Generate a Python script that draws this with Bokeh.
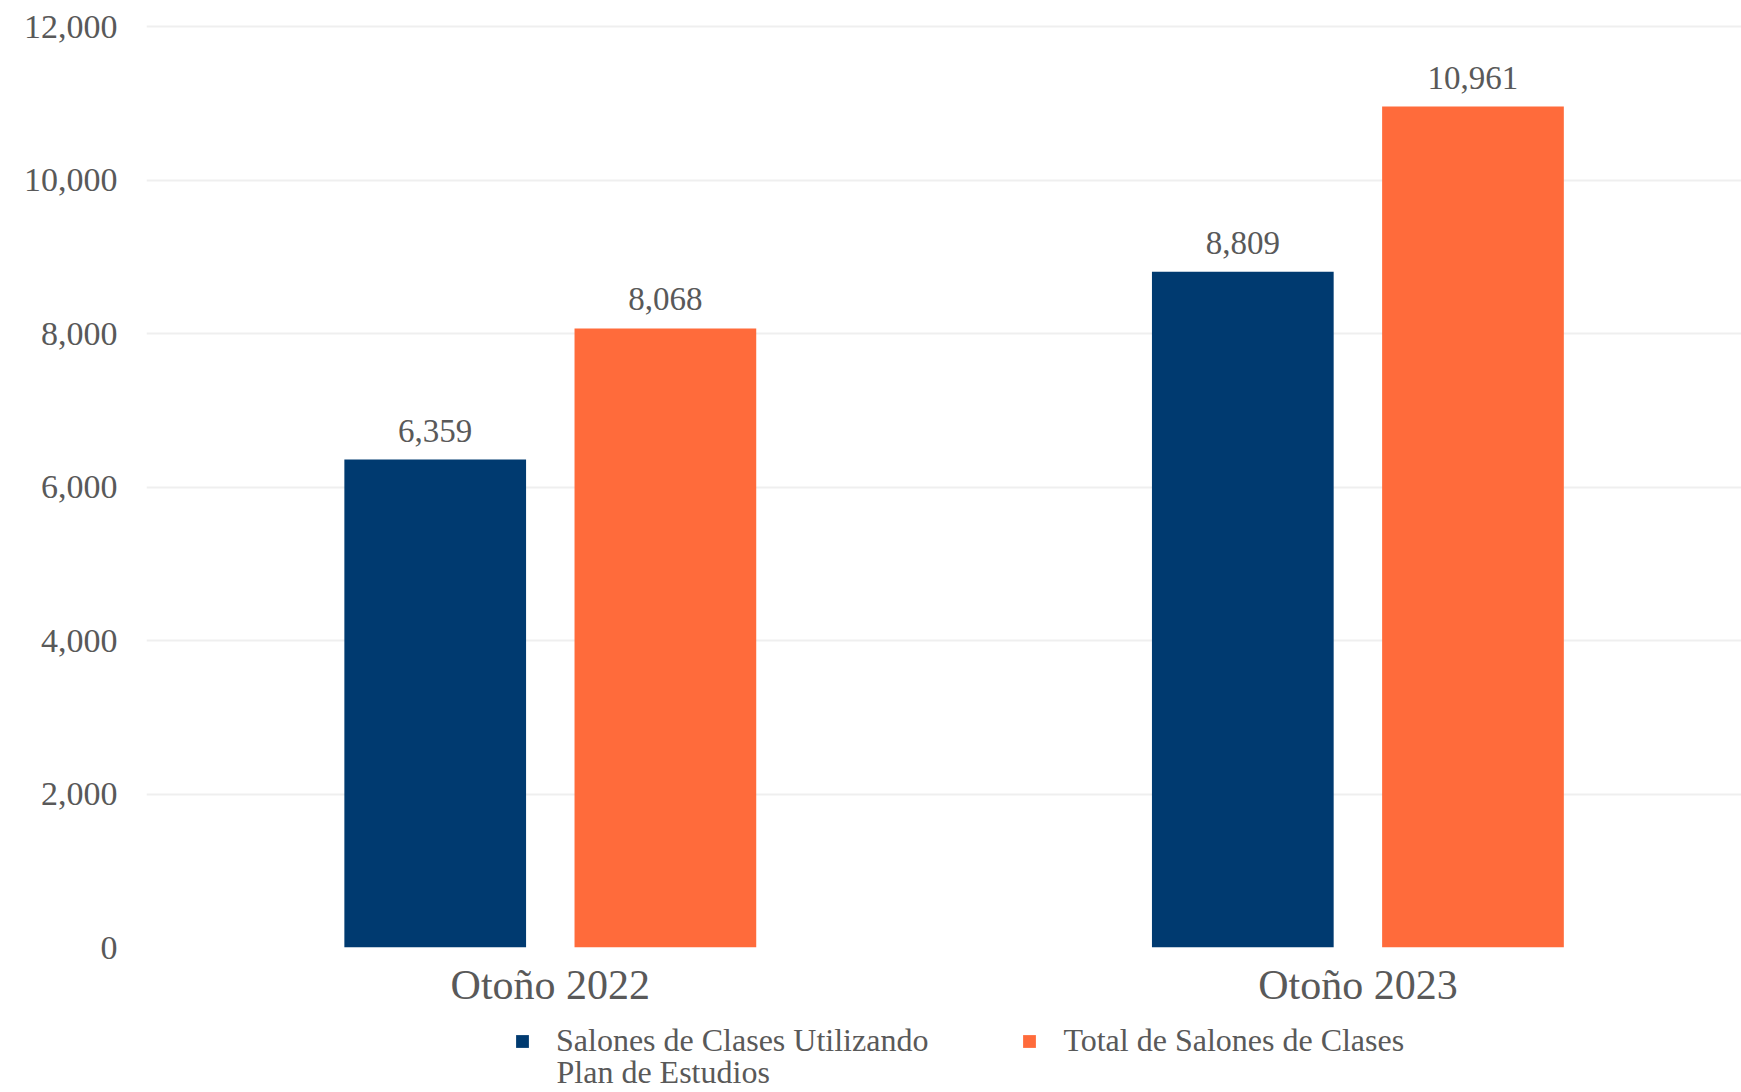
from bokeh.plotting import figure
from bokeh.layouts import column
from bokeh.models import (ColumnDataSource, Range1d, FixedTicker, LabelSet, Label, Legend,
                          LegendItem, NumeralTickFormatter)
from bokeh.transform import dodge
from bokeh.embed import file_html
from bokeh.resources import INLINE

# ---- data ----
categories = ["Otoño 2022", "Otoño 2023"]
series_names = ["Salones de Clases Utilizando", "Total de Salones de Clases"]
series_name_line2 = "Plan de Estudios"
salones_plan = [6359, 8809]
total_salones = [8068, 10961]
y_ticks = [0, 2000, 4000, 6000, 8000, 10000, 12000]

FONT = "Liberation Serif"
TEXT = "#595959"
BLUE = "#003A70"
ORANGE = "#FF6B3B"
GRID = "#EFEFEF"

xpos = list(range(len(categories)))
src = ColumnDataSource(dict(
    x=xpos,
    plan=salones_plan,
    total=total_salones,
    plan_lbl=[f"{v:,}" for v in salones_plan],
    total_lbl=[f"{v:,}" for v in total_salones],
))

p = figure(width=1741, height=1010, output_backend="svg", toolbar_location=None,
           x_range=Range1d(-0.5, 1.475), y_range=Range1d(0, 12030),
           min_border_left=146, min_border_right=0, min_border_top=24,
           min_border_bottom=62)
p.outline_line_color = None
p.background_fill_color = "white"
p.border_fill_color = "white"

OFF = 0.1425
W = 0.225
r1 = p.vbar(x=dodge("x", -OFF), top="plan", width=W, source=src,
            fill_color=BLUE, line_color=None)
r2 = p.vbar(x=dodge("x", OFF), top="total", width=W, source=src,
            fill_color=ORANGE, line_color=None)

for col, lbl, off in (("plan", "plan_lbl", -OFF), ("total", "total_lbl", OFF)):
    p.add_layout(LabelSet(x=dodge("x", off), y=col, text=lbl, source=src,
                          text_align="center", text_baseline="alphabetic",
                          y_offset=18, text_font=FONT, text_font_size="33px",
                          text_color=TEXT))

# axes
p.xaxis.ticker = FixedTicker(ticks=xpos)
p.xaxis.major_label_overrides = {i: c for i, c in enumerate(categories)}
p.xaxis.major_label_text_font = FONT
p.xaxis.major_label_text_font_size = "42px"
p.xaxis.major_label_text_color = TEXT
p.xaxis.major_label_standoff = 8
p.xaxis.axis_line_color = None
p.xaxis.major_tick_line_color = None
p.xaxis.minor_tick_line_color = None

p.yaxis.ticker = FixedTicker(ticks=y_ticks)
p.yaxis.formatter = NumeralTickFormatter(format="0,0")
p.yaxis.major_label_text_font = FONT
p.yaxis.major_label_text_font_size = "34px"
p.yaxis.major_label_text_color = TEXT
p.yaxis.major_label_standoff = 23
p.yaxis.axis_line_color = None
p.yaxis.major_tick_line_color = None
p.yaxis.minor_tick_line_color = None

p.xgrid.grid_line_color = None
p.ygrid.grid_line_color = GRID
p.ygrid.grid_line_width = 2

# ---- legend strip (its frame is aligned with the main plot's frame) ----
leg = figure(width=1741, height=82, output_backend="svg", toolbar_location=None,
             x_range=Range1d(0, 1), y_range=Range1d(0, 1), min_border=0)
leg.axis.visible = False
leg.grid.visible = False
leg.outline_line_color = None
# zero-height key glyphs (draw nothing in the strip, only feed the legend)
k1 = leg.vbar(x=[0.5], top=[0], width=0.01, fill_color=BLUE, line_color=None)
k2 = leg.vbar(x=[0.5], top=[0], width=0.01, fill_color=ORANGE, line_color=None)

legend = Legend(items=[LegendItem(label=series_names[0], renderers=[k1]),
                       LegendItem(label=series_names[1], renderers=[k2])],
                orientation="horizontal", location=(368, 33),
                glyph_width=16, glyph_height=16, label_standoff=26, spacing=93,
                padding=0, margin=0, border_line_color=None,
                background_fill_alpha=0, label_text_font=FONT,
                label_text_font_size="32px", label_text_color=TEXT)
leg.add_layout(legend, "center")
leg.add_layout(Label(x=410, y=21, x_units="screen", y_units="screen",
                     text=series_name_line2, text_baseline="middle",
                     text_font=FONT, text_font_size="32px", text_color=TEXT))

open("out.html", "w").write(file_html(column(p, leg, spacing=0), INLINE))
